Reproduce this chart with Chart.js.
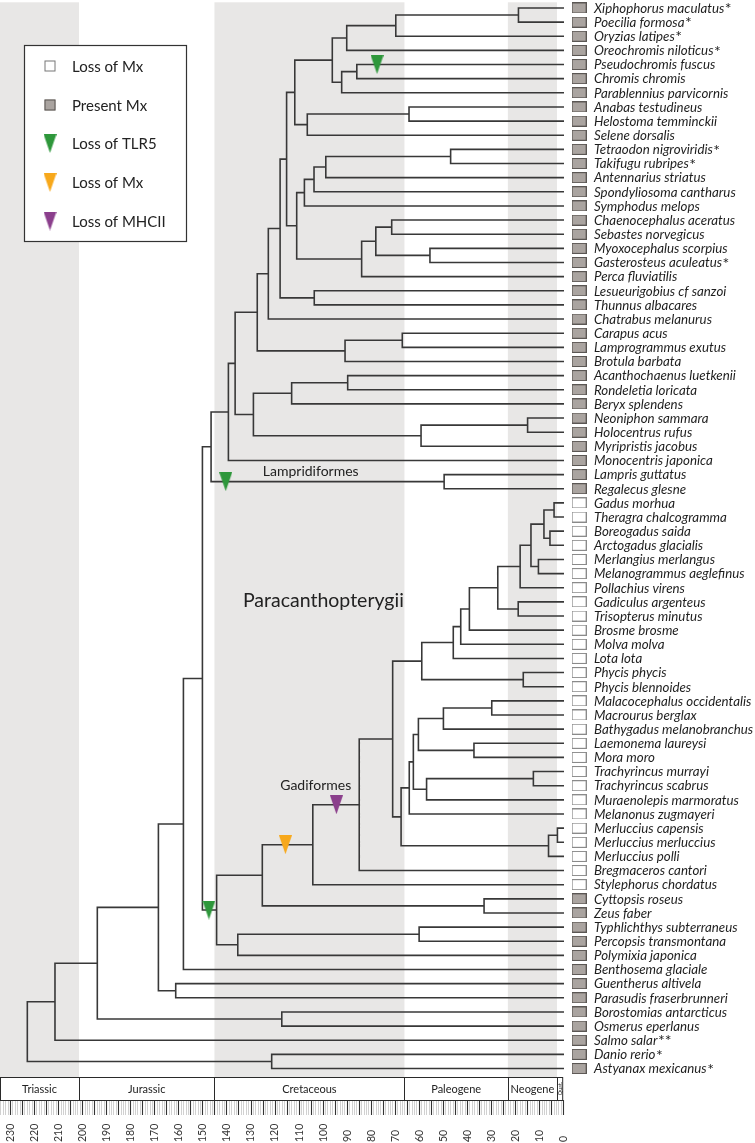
<!DOCTYPE html>
<html><head><meta charset="utf-8">
<script src="https://cdn.jsdelivr.net/npm/chart.js@4"></script>
<style>html,body{margin:0;padding:0;background:#fff}canvas{display:block}</style>
</head><body>
<canvas id="c" width="755" height="1143"></canvas>
<script>
// ---------------- DATA ----------------
const taxa = [
 'Xiphophorus maculatus*','Poecilia formosa*','Oryzias latipes*','Oreochromis niloticus*','Pseudochromis fuscus',
 'Chromis chromis','Parablennius parvicornis','Anabas testudineus','Helostoma temminckii','Selene dorsalis',
 'Tetraodon nigroviridis*','Takifugu rubripes*','Antennarius striatus','Spondyliosoma cantharus','Symphodus melops',
 'Chaenocephalus aceratus','Sebastes norvegicus','Myoxocephalus scorpius','Gasterosteus aculeatus*','Perca fluviatilis',
 'Lesueurigobius cf sanzoi','Thunnus albacares','Chatrabus melanurus','Carapus acus','Lamprogrammus exutus',
 'Brotula barbata','Acanthochaenus luetkenii','Rondeletia loricata','Beryx splendens','Neoniphon sammara',
 'Holocentrus rufus','Myripristis jacobus','Monocentris japonica','Lampris guttatus','Regalecus glesne',
 'Gadus morhua','Theragra chalcogramma','Boreogadus saida','Arctogadus glacialis','Merlangius merlangus',
 'Melanogrammus aeglefinus','Pollachius virens','Gadiculus argenteus','Trisopterus minutus','Brosme brosme',
 'Molva molva','Lota lota','Phycis phycis','Phycis blennoides','Malacocephalus occidentalis',
 'Macrourus berglax','Bathygadus melanobranchus','Laemonema laureysi','Mora moro','Trachyrincus murrayi',
 'Trachyrincus scabrus','Muraenolepis marmoratus','Melanonus zugmayeri','Merluccius capensis','Merluccius merluccius',
 'Merluccius polli','Bregmaceros cantori','Stylephorus chordatus','Cyttopsis roseus','Zeus faber',
 'Typhlichthys subterraneus','Percopsis transmontana','Polymixia japonica','Benthosema glaciale','Guentherus altivela',
 'Parasudis fraserbrunneri','Borostomias antarcticus','Osmerus eperlanus','Salmo salar**','Danio rerio*',
 'Astyanax mexicanus*'
];
// 1 = Present Mx (grey box), 0 = Loss of Mx (white box)
const mxPresent = [
 1,1,1,1,1,1,1,1,1,1, 1,1,1,1,1,1,1,1,1,1, 1,1,1,1,1,1,1,1,1,1, 1,1,1,1,1,
 0,0,0,0,0,0,0,0,0,0, 0,0,0,0,0,0,0,0,0,0, 0,0,0,0,0,0,0,0,
 1,1,1,1,1,1,1,1,1,1,1,1,1
];
// internal nodes: id, age (Ma), children (tip index or node id)
const nodeIds  = ['n1','n2','n3','n4','n5','n6','n7','n8','nA','n9','n10','n11','n12','n13','n14','n15','n16','nC','nB','n17','nD','nE','n18','n19','nF','n20','n21','n22','n23','nH','nG','nI','n24','nJ',
 'g1','g2','g3','g4','g5','g6','g7','g8','g9','g10','g11','g12','gV','m1','m2','m3','m4','t1','t2','m5','m6','mer1','mer2','gW','gU','gT','gS','z1','gR','p1','p2','nL','nK','nM','q1','nN','o1','nO','nP','d1','root'];
const nodeAges = [18.6,69.6,90.0,85.8,92.1,96.0,64.1,106.4,111.6,46.8,98.7,103.6,107.6,71.3,55.4,77.9,83.8,110.8,115.0,103.5,117.7,122.6,66.9,90.7,127.2,89.6,112.9,14.8,59.1,128.8,136.4,139.2,49.5,146.4,
 3.8,5.5,8.0,10.3,13.4,17.9,18.7,27.2,39.0,42.6,45.7,16.6,58.8,29.7,49.8,37.1,60.2,12.4,56.8,62.3,64.0,2.4,6.1,67.4,70.9,84.8,104.1,32.9,125.1,59.9,135.3,144.1,150.0,157.9,161.1,168.3,117.0,193.7,211.3,121.2,222.8];
const nodeKids = [[0,1],['n1',2],['n2',3],[4,5],['n4',6],['n3','n5'],[7,8],['n7',9],['n6','n8'],[10,11],['n9',12],['n10',13],['n11',14],[15,16],[17,18],['n13','n14'],['n15',19],['n12','n16'],['nA','nC'],[20,21],['nB','n17'],['nD',22],[23,24],['n18',25],['nE','n19'],[26,27],['n20',28],[29,30],['n22',31],['n21','n23'],['nF','nH'],['nG',32],[33,34],['nI','n24'],
 [35,36],[37,38],['g1','g2'],[39,40],['g3','g4'],['g5',41],[42,43],['g6','g7'],['g8',44],['g9',45],['g10',46],[47,48],['g11','g12'],[49,50],['m1',51],[52,53],['m2','m3'],[54,55],['t1',56],['m4','t2'],['m5',57],[58,59],['mer1',60],['m6','mer2'],['gV','gW'],['gU',61],['gT',62],[63,64],['gS','z1'],[65,66],['p1',67],['gR','p2'],['nJ','nL'],['nK',68],[69,70],['nM','q1'],[71,72],['nN','o1'],['nO',73],[74,75],['nP','d1']];

// gene-loss events on branches (branch = tip index or node id)
const eventBranch = [4, 'n24', 'nL', 'gS', 'gT'];
const eventAges   = [77.4, 140.3, 147.3, 115.5, 94.3];
const eventType   = ['TLR5','TLR5','TLR5','Mx','MHCII'];

const legendLabels = ['Loss of Mx','Present Mx','Loss of TLR5','Loss of Mx','Loss of MHCII'];
const legendKinds  = ['boxLoss','boxPresent','TLR5','Mx','MHCII'];

const periodNames  = ['Triassic','Jurassic','Cretaceous','Paleogene','Neogene','Quat.'];
const periodStart  = [234.16, 201.3, 145, 66, 23, 2.58];
const periodEnd    = [201.3, 145, 66, 23, 2.58, 0];
const periodShaded = [1,0,1,0,1,0];
const tickLabels   = [230,220,210,200,190,180,170,160,150,140,130,120,110,100,90,80,70,60,50,40,30,20,10,0];

const annoText = ['Lampridiformes','Paracanthopterygii','Gadiformes'];
const annoAge  = [124.9, 99.7, 102.9];
const annoRow  = [32.8, 41.95, 54.95];
const annoSize = [14, 19.5, 14];

// ---------------- STYLE ----------------
const COLORS = {TLR5:'#2e973b', Mx:'#f7a81b', MHCII:'#8b3f8c'};
const LINE = '#383838';
const SHADE = '#e8e7e6';
const FONT = 'Lato, "Open Sans", sans-serif';

// ---------------- TREE GEOMETRY ----------------
const nodeIndex = {};
nodeIds.forEach((id,i)=>nodeIndex[id]=i);
const ageOf = r => typeof r === 'number' ? 0 : nodeAges[nodeIndex[r]];
const rowCache = {};
function rowOf(r){
  if (typeof r === 'number') return r;
  if (rowCache[r] !== undefined) return rowCache[r];
  const k = nodeKids[nodeIndex[r]];
  return rowCache[r] = (rowOf(k[0]) + rowOf(k[1])) / 2;
}
const treePts = [];
nodeIds.forEach((id,i)=>{
  const [a,b] = nodeKids[i];
  const t = nodeAges[i];
  treePts.push({x:ageOf(a),y:rowOf(a)},{x:t,y:rowOf(a)},{x:t,y:rowOf(b)},{x:ageOf(b),y:rowOf(b)},{x:null,y:null});
});

function makeTri(color){
  const c=document.createElement('canvas'); c.width=13; c.height=19;
  const g=c.getContext('2d'); g.fillStyle=color; g.beginPath();
  g.moveTo(0,0); g.lineTo(13,0); g.lineTo(6.5,19); g.closePath(); g.fill(); return c;
}
function makeBox(fill, stroke){
  const c=document.createElement('canvas'); c.width=15; c.height=11;
  const g=c.getContext('2d'); g.fillStyle=fill; g.fillRect(0,0,15,11);
  g.strokeStyle=stroke; g.lineWidth=1; g.strokeRect(0.5,0.5,14,10); return c;
}
const boxPresent = makeBox('#aaa4a0','#5a5653');
const boxLoss = makeBox('#ffffff','#8a8a8a');
const tri = {TLR5:makeTri(COLORS.TLR5), Mx:makeTri(COLORS.Mx), MHCII:makeTri(COLORS.MHCII)};

const BOX_AGE = -6.6;
const X_MIN = -13.1;
const boxPts = taxa.map((t,i)=>({x:BOX_AGE, y:i}));
const eventPts = eventBranch.map((b,i)=>({x:eventAges[i], y:rowOf(b)}));

// ---------------- PLUGIN ----------------
const decor = {
  id:'decor',
  beforeDatasetsDraw(chart){
    const {ctx, chartArea:a, scales:{x}} = chart;
    ctx.save();
    ctx.fillStyle = SHADE;
    periodNames.forEach((p,i)=>{
      if(!periodShaded[i]) return;
      const x1 = x.getPixelForValue(periodStart[i]), x2 = x.getPixelForValue(periodEnd[i]);
      ctx.fillRect(x1, a.top, x2-x1, a.bottom-a.top);
    });
    ctx.restore();
  },
  afterDatasetsDraw(chart){
    const {ctx, chartArea:a, scales:{x,y}} = chart;
    ctx.save();
    // species labels
    ctx.textBaseline='middle'; ctx.fillStyle='#1e1e1e';
    taxa.forEach((t,i)=>{
      const name = t.replace(/\*+$/,''); const stars = t.slice(name.length);
      const py = y.getPixelForValue(i)+0.5;
      ctx.font = 'italic 13.3px '+FONT;
      ctx.fillText(name, 594, py);
      if(stars){ const w = ctx.measureText(name).width; ctx.font='16px '+FONT; ctx.fillText(stars, 594+w+0.5, py+0.5); }
    });
    // annotations
    ctx.fillStyle='#222';
    annoText.forEach((t,i)=>{
      ctx.font = annoSize[i]+'px '+FONT; ctx.textAlign = (i===0)?'left':'center';
      ctx.fillText(t, x.getPixelForValue(annoAge[i]), y.getPixelForValue(annoRow[i]));
    });
    ctx.textAlign='left';
    // legend
    ctx.fillStyle='#fff'; ctx.fillRect(24,45,163,197);
    ctx.strokeStyle='#333'; ctx.lineWidth=1.2; ctx.strokeRect(24.5,45.5,162,196);
    const ly=[66,105,143.5,182.5,221];
    legendKinds.forEach((k,i)=>{
      if(k==='boxLoss'||k==='boxPresent'){
        ctx.fillStyle = k==='boxLoss'?'#fff':'#aaa4a0'; ctx.fillRect(44.5,ly[i]-5.5,11,11);
        ctx.strokeStyle = k==='boxLoss'?'#777':'#5a5653'; ctx.lineWidth=1; ctx.strokeRect(45,ly[i]-5,10,10);
      } else {
        ctx.drawImage(tri[k], 50-6.5, ly[i]-9.5);
      }
      ctx.fillStyle='#222'; ctx.font='15px '+FONT; ctx.textBaseline='middle';
      ctx.fillText(legendLabels[i], 72, ly[i]+1);
    });
    // geological time scale
    const top=1077, mid=1100, tb=1115;
    const xl = x.getPixelForValue(234.16), xr = x.getPixelForValue(0);
    ctx.fillStyle='#fff'; ctx.fillRect(xl, top, xr-xl, 1143-top);
    for(let m=0; m<=234; m++){
      const px = Math.round(x.getPixelForValue(m))+0.5;
      if(m%5===0){ ctx.strokeStyle='#333'; ctx.lineWidth=1.1; }
      else { ctx.strokeStyle='#bdbdbd'; ctx.lineWidth=0.7; }
      ctx.beginPath(); ctx.moveTo(px, mid); ctx.lineTo(px, tb); ctx.stroke();
    }
    ctx.strokeStyle='#2a2a2a'; ctx.lineWidth=1;
    ctx.strokeRect(xl+0.5, top+0.5, xr-xl-1, mid-top);
    ctx.fillStyle='#222'; ctx.textAlign='center'; ctx.textBaseline='middle';
    periodNames.forEach((p,i)=>{
      const x1 = x.getPixelForValue(periodStart[i]), x2 = x.getPixelForValue(periodEnd[i]);
      if(i>0){ ctx.beginPath(); ctx.moveTo(Math.round(x1)+0.5, top); ctx.lineTo(Math.round(x1)+0.5, mid); ctx.stroke(); }
      if(p==='Quat.'){
        ctx.save(); ctx.translate((x1+x2)/2, (top+mid)/2); ctx.rotate(-Math.PI/2);
        ctx.font='5.5px '+FONT; ctx.fillText(p,0,0); ctx.restore();
      } else {
        ctx.font='11px '+FONT; ctx.fillText(p, (x1+x2)/2, (top+mid)/2+0.5);
      }
    });
    ctx.font='10.5px '+FONT; ctx.textAlign='left'; ctx.fillStyle='#333';
    tickLabels.forEach(v=>{
      ctx.save(); ctx.translate(x.getPixelForValue(v)+0.5, 1142); ctx.rotate(-Math.PI/2);
      ctx.fillText(String(v), 0, 0); ctx.restore();
    });
    ctx.restore();
  }
};

new Chart(document.getElementById('c'), {
  type:'scatter',
  data:{ datasets:[
    { label:'tree', data:treePts, showLine:true, spanGaps:false, borderColor:LINE, borderWidth:1.6,
      pointRadius:0, borderCapStyle:'square', borderJoinStyle:'miter', order:3 },
    { label:'Mx status', data:boxPts, showLine:false, clip:false, borderWidth:0, pointRadius:12,
      pointStyle: mxPresent.map(v=> v? boxPresent : boxLoss), order:2 },
    { label:'events', data:eventPts, showLine:false, clip:false, borderWidth:0, pointRadius:10,
      pointStyle: eventType.map(t=>tri[t]), order:1 }
  ]},
  options:{
    responsive:false, animation:false, events:[],
    layout:{ autoPadding:false, padding:{left:0, right:160.3, top:2.3, bottom:66} },
    plugins:{ legend:{display:false}, tooltip:{enabled:false} },
    scales:{
      x:{ type:'linear', min:X_MIN, max:234.16, reverse:true, display:false },
      y:{ type:'linear', min:-0.4, max:75.6, reverse:true, display:false }
    }
  },
  plugins:[decor]
});
</script>
</body></html>
